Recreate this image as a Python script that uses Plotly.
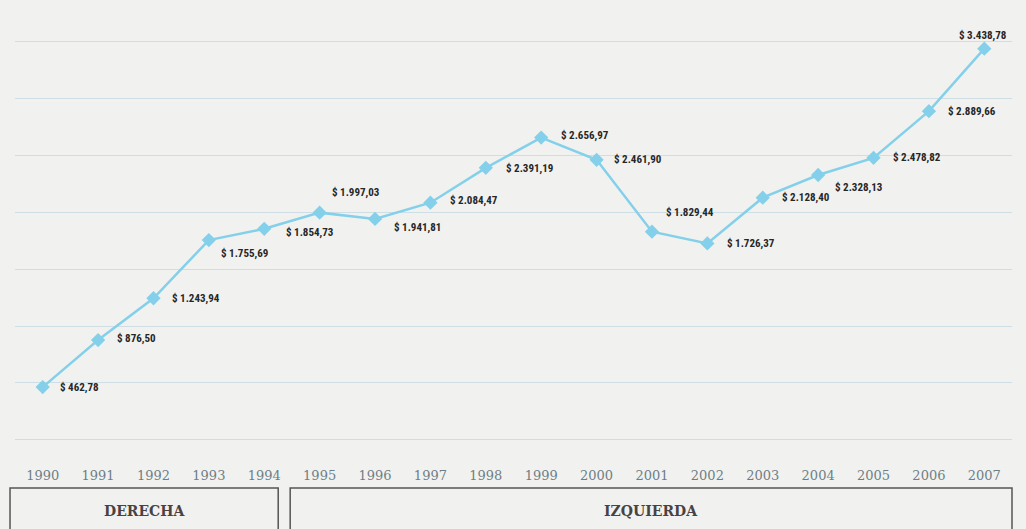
import plotly.graph_objects as go

# Yearly series
years = [1990, 1991, 1992, 1993, 1994, 1995, 1996, 1997, 1998, 1999,
         2000, 2001, 2002, 2003, 2004, 2005, 2006, 2007]
values = [462.78, 876.50, 1243.94, 1755.69, 1854.73, 1997.03, 1941.81, 2084.47,
          2391.19, 2656.97, 2461.90, 1829.44, 1726.37, 2128.40, 2328.13, 2478.82,
          2889.66, 3438.78]
tick_labels = [str(y) for y in years]
box_titles = ["DERECHA", "IZQUIERDA"]

# Pixel offsets of each value label relative to its marker
label_dx = [15, 17, 17, 10, 20, 10, 17, 18, 18, 18, 15, 12, 18, 17, 15, 17, 17, -27]
label_dy = [0, 2, 0, -13, -4, 20, -9, 2, -1, 2, 0, 19, 0, 0, -13, 0, 0, 13]

LINE = "#84d0ea"
BG = "#f1f2f0"
GRID = "#cfdee5"


def money(v):
    s = f"{v:,.2f}"
    s = s.replace(",", "X").replace(".", ",").replace("X", ".")
    return f"$ {s}"


fig = go.Figure()
fig.add_trace(go.Scatter(
    x=years, y=values, mode="lines+markers",
    line=dict(color=LINE, width=2.5),
    marker=dict(symbol="diamond", size=11, color=LINE),
    hoverinfo="skip", showlegend=False,
))

for x, v, dx, dy in zip(years, values, label_dx, label_dy):
    fig.add_annotation(
        x=x, y=v, text=f"<b>{money(v)}</b>", showarrow=False,
        xanchor="left", yanchor="middle", xshift=dx, yshift=dy,
        font=dict(family="Liberation Sans Narrow, Roboto Condensed, Arial Narrow, sans-serif",
                  size=11, color="#262626"),
    )

# Boxes under the axis
boxes = [(-0.005, 0.264), (0.276, 1.0)]
for (x0, x1), title in zip(boxes, box_titles):
    fig.add_shape(type="rect", xref="paper", yref="paper",
                  x0=x0, x1=x1, y0=-0.30, y1=-0.104,
                  line=dict(color="#555555", width=1.5), fillcolor="rgba(0,0,0,0)")
    fig.add_annotation(xref="paper", yref="paper", x=(x0 + x1) / 2, y=-0.157,
                       text=f"<b>{title}</b>", showarrow=False,
                       xanchor="center", yanchor="middle",
                       font=dict(family="DejaVu Serif, Liberation Serif, serif",
                                 size=14, color="#4a4242"))

fig.update_layout(
    width=1026, height=529,
    margin=dict(l=15, r=14, t=0, b=87),
    paper_bgcolor=BG, plot_bgcolor=BG,
    xaxis=dict(range=[1989.5, 2007.5], tickmode="array", tickvals=years,
               ticktext=tick_labels, showgrid=False, zeroline=False, showline=False,
               ticks="", ticklabelstandoff=24,
               tickfont=dict(family="DejaVu Serif, Liberation Serif, serif",
                             size=13, color="#6f7e85")),
    yaxis=dict(range=[-20, 3867], tickmode="linear", tick0=0, dtick=500,
               showticklabels=False, showgrid=True, gridcolor=GRID, gridwidth=1,
               zeroline=True, zerolinecolor=GRID, zerolinewidth=1, showline=False),
)

fig.write_html("out.html")
